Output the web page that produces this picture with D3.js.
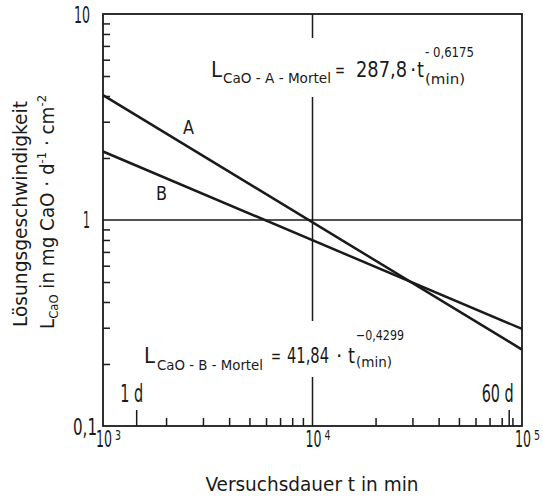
<!DOCTYPE html>
<html>
<head>
<meta charset="utf-8">
<script src="https://cdn.jsdelivr.net/npm/d3@7.9.0/dist/d3.min.js"></script>
<style>
  body { margin: 0; background: #fff; }
  svg text { font-family: "DejaVu Sans Condensed", "Liberation Sans Narrow", sans-serif; font-stretch: condensed; fill: #1a1a1a; }
</style>
</head>
<body>
<svg id="chart" width="543" height="497"></svg>
<script>
// data
const xDomain = [1e3, 1e5];            // Versuchsdauer t in min
const yDomain = [0.1, 10];             // L_CaO
const lineT = [1e3, 1e5];
const valuesA = [4.04, 0.235];
const valuesB = [2.15, 0.296];
const seriesLabels = ["A", "B"];
const xTickExponents = [3, 4, 5];
const yTickValues = [0.1, 1, 10];
const yTickLabels = ["0,1", "1", "10"];
const dayTicks = [1440, 86400];
const dayLabels = ["1 d", "60 d"];

const ink = "#1a1a1a";
const svg = d3.select("#chart");

const x = d3.scaleLog().domain(xDomain).range([103, 522]);
const y = d3.scaleLog().domain(yDomain).range([426, 14]);

// text helper: squeeze strings to the width seen in the picture
function label(parent, str, px, py, size, len, anchor) {
  const t = parent.append("text")
    .attr("x", px).attr("y", py)
    .attr("font-size", size)
    .attr("text-anchor", anchor || "start")
    .text(str);
  if (len) t.attr("textLength", len).attr("lengthAdjust", "spacingAndGlyphs");
  return t;
}

// minor ticks (2..9 in each decade)
const isPow10 = v => Math.abs(Math.log10(v) - Math.round(Math.log10(v))) < 1e-9;
const minorX = x.ticks().filter(v => !isPow10(v));
const minorY = y.ticks().filter(v => !isPow10(v));

// grid lines at 10^4 and 1
svg.append("line")
  .attr("x1", x(1e4)).attr("x2", x(1e4))
  .attr("y1", y(yDomain[1])).attr("y2", y(yDomain[0]))
  .attr("stroke", ink).attr("stroke-width", 1.5);
svg.append("line")
  .attr("x1", x(xDomain[0])).attr("x2", x(xDomain[1]))
  .attr("y1", y(1)).attr("y2", y(1))
  .attr("stroke", ink).attr("stroke-width", 1.5);

// ticks inside the frame
const bottomAxis = svg.append("g")
  .attr("transform", `translate(0,${y(yDomain[0])})`)
  .call(d3.axisBottom(x).tickValues(minorX).tickSize(-8).tickFormat(""));
const dayAxis = svg.append("g")
  .attr("transform", `translate(0,${y(yDomain[0])})`)
  .call(d3.axisBottom(x).tickValues(dayTicks).tickSize(-16).tickFormat(""));
const leftAxis = svg.append("g")
  .attr("transform", `translate(${x(xDomain[0])},0)`)
  .call(d3.axisLeft(y).tickValues(minorY).tickSize(-7).tickFormat(""));
[bottomAxis, dayAxis, leftAxis].forEach(g => {
  g.select(".domain").remove();
  g.selectAll(".tick line").attr("stroke", ink).attr("stroke-width", 1.5);
});

// equations (knock out the grid line behind them)
function equation(parts, pad) {
  const g = svg.append("g");
  const bg = g.append("rect").attr("fill", "#fff");
  const texts = parts.map(p => label(g, p.text, p.x, p.y, p.s, p.w).node().getBBox());
  const x0 = d3.min(texts, b => b.x), x1 = d3.max(texts, b => b.x + b.width);
  const y0 = d3.min(texts, b => b.y), y1 = d3.max(texts, b => b.y + b.height);
  bg.attr("x", x0 - pad[0]).attr("y", y0 - pad[1])
    .attr("width", x1 - x0 + 2 * pad[0]).attr("height", y1 - y0 + pad[1] + pad[2]);
}

equation([
  { text: "L", x: 211, y: 77, s: 22, w: 11 },
  { text: "CaO - A - Mortel", x: 223, y: 83, s: 14, w: 108 },
  { text: "=", x: 335, y: 76, s: 18, w: 10 },
  { text: "287,8", x: 356, y: 77, s: 22, w: 51 },
  { text: "·", x: 410, y: 77, s: 22 },
  { text: "t", x: 417, y: 77, s: 22, w: 7 },
  { text: "- 0,6175", x: 425, y: 57, s: 14, w: 49 },
  { text: "(min)", x: 425, y: 84, s: 14, w: 40 }
], [6, 6, 10]);

equation([
  { text: "L", x: 144, y: 363, s: 22, w: 11 },
  { text: "CaO - B - Mortel", x: 157, y: 370, s: 14, w: 106 },
  { text: "=", x: 271, y: 362, s: 18, w: 10 },
  { text: "41,84", x: 287, y: 363, s: 22, w: 42 },
  { text: "·", x: 336, y: 363, s: 22 },
  { text: "t", x: 348, y: 363, s: 22, w: 7 },
  { text: "\u22120,4299", x: 356, y: 340, s: 14, w: 48 },
  { text: "(min)", x: 356, y: 367, s: 14, w: 36 }
], [4, 6, 4]);

// the two regression lines
const line = d3.line().x(d => x(d[0])).y(d => y(d[1]));
[valuesA, valuesB].forEach(vals => {
  svg.append("path")
    .datum(lineT.map((t, i) => [t, vals[i]]))
    .attr("d", line)
    .attr("fill", "none")
    .attr("stroke", ink)
    .attr("stroke-width", 2.5);
});

// series labels
label(svg, seriesLabels[0], 183, 134, 20, 11);
label(svg, seriesLabels[1], 156, 200, 20, 11);

// day marker labels
label(svg, dayLabels[0], x(dayTicks[0]) - 16, 402, 24, 23);
label(svg, dayLabels[1], x(dayTicks[1]) + 5, 402, 24, 32, "end");

// frame
svg.append("rect")
  .attr("x", x(xDomain[0])).attr("y", y(yDomain[1]))
  .attr("width", x(xDomain[1]) - x(xDomain[0]))
  .attr("height", y(yDomain[0]) - y(yDomain[1]))
  .attr("fill", "none").attr("stroke", ink).attr("stroke-width", 1.8);

// x tick labels 10^n
xTickExponents.forEach(e => {
  const px = x(Math.pow(10, e));
  label(svg, "10", px - 7, 447, 23, 16);
  label(svg, String(e), px + 12, 440, 14, 6);
});

// y tick labels
const yLabelShift = [[7, 9], [0, 8], [0, 9]];
const yLabelWidth = [24, 7, 16];
yTickValues.forEach((v, i) => {
  label(svg, yTickLabels[i], 90 + yLabelShift[i][0], y(v) + yLabelShift[i][1], 23, yLabelWidth[i], "end");
});

// axis titles
label(svg, "Versuchsdauer t in min", 312, 491, 19, 213, "middle");

label(svg, "Lösungsgeschwindigkeit", 0, 0, 19, 226, "middle")
  .attr("transform", "translate(27,214) rotate(-90)");

const yt = svg.append("text")
  .attr("transform", "translate(54,212) rotate(-90)")
  .attr("font-size", 19).attr("text-anchor", "middle")
  .attr("textLength", 234).attr("lengthAdjust", "spacingAndGlyphs");
yt.append("tspan").text("L");
yt.append("tspan").attr("font-size", 12).attr("dy", 4).text("CaO");
yt.append("tspan").attr("dy", -4).text(" in mg CaO · d");
yt.append("tspan").attr("font-size", 12).attr("dy", -8).text("-1");
yt.append("tspan").attr("dy", 8).text(" · cm");
yt.append("tspan").attr("font-size", 12).attr("dy", -8).text("-2");
</script>
</body>
</html>
